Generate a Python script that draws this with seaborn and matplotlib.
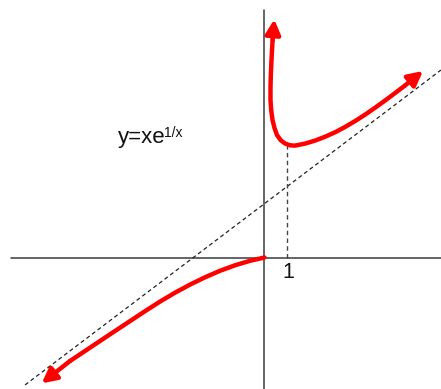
import matplotlib
matplotlib.use("Agg")
import matplotlib.pyplot as plt
import seaborn as sns
import pandas as pd

# Sketch of y = x*e^(1/x): hand-read points along each branch
right_x = [0.352, 0.322, 0.296, 0.274, 0.261, 0.261, 0.291, 0.348, 0.435, 0.543, 0.696,
           0.891, 1.109, 1.326, 1.761, 2.196, 2.630, 3.065, 3.5, 3.935, 4.370, 4.804,
           5.239, 5.674, 6.109]
right_y = [9.457, 8.935, 8.413, 7.891, 7.370, 6.848, 6.413, 5.978, 5.630, 5.326, 5.109,
           4.957, 4.878, 4.865, 4.952, 5.083, 5.248, 5.443, 5.674, 5.930, 6.209, 6.509,
           6.822, 7.148, 7.478]
right_tip_top = (0.426, 10.357)
right_tip_end = (6.891, 8.109)

left_x = [0.0, -0.630, -1.283, -1.935, -2.587, -3.239, -3.891, -4.543, -5.196, -5.848,
          -6.5, -7.152, -7.804, -8.457]
left_y = [0.0, -0.143, -0.339, -0.578, -0.861, -1.178, -1.530, -1.917, -2.335, -2.765,
          -3.196, -3.630, -4.065, -4.5]
left_tip = (-9.687, -5.470)

# Oblique asymptote and the guide at x = 1
asym_x = [-10.41, 7.67]
asym_y = [-5.54, 8.15]
guide_x = [1.0, 1.0]
guide_y = [0.0, 4.93]

tick_label = "1"
equation = "y=xe"
exponent = "1/x"

sns.set_theme(style="white")
plt.rcParams["font.family"] = ["Liberation Sans", "DejaVu Sans"]

fig = plt.figure(figsize=(4.41, 3.89), dpi=100)
ax = fig.add_axes([0, 0, 1, 1])
ax.set_xlim(-11.5, 7.674)
ax.set_ylim(-5.717, 11.196)
ax.axis("off")

# Coordinate axes
axis_color = "#3a3a3a"
ax.plot([-11.04, 7.674], [0, 0], color=axis_color, lw=1.1, zorder=1)
ax.plot([0, 0], [-5.717, 10.76], color=axis_color, lw=1.1, zorder=1)

# Dashed asymptote and x = 1 guide
sns.lineplot(x=asym_x, y=asym_y, ax=ax, color="#222222", lw=0.9,
             linestyle=(0, (3.2, 2.4)), sort=False, estimator=None, zorder=2)
sns.lineplot(x=guide_x, y=guide_y, ax=ax, color="#444444", lw=1.0,
             linestyle=(0, (3.2, 2.4)), sort=False, estimator=None, zorder=2)

red = "#ff0000"
lw = 3.2
right = pd.DataFrame({"x": right_x, "y": right_y})
left = pd.DataFrame({"x": left_x, "y": left_y})
line_kw = dict(ax=ax, color=red, lw=lw, sort=False, estimator=None, zorder=3,
               solid_capstyle="round", solid_joinstyle="round")
sns.lineplot(data=right, x="x", y="y", **line_kw)
sns.lineplot(data=left, x="x", y="y", **line_kw)

arrow_kw = dict(arrowstyle="-|>,head_length=0.62,head_width=0.32", color=red,
                lw=lw, mutation_scale=14, shrinkA=0, shrinkB=0)
ax.annotate("", xy=right_tip_top, xytext=(right_x[0], right_y[0]), arrowprops=arrow_kw, zorder=4)
ax.annotate("", xy=right_tip_end, xytext=(right_x[-1], right_y[-1]), arrowprops=arrow_kw, zorder=4)
ax.annotate("", xy=left_tip, xytext=(left_x[-1], left_y[-1]), arrowprops=arrow_kw, zorder=4)

# Labels
ax.text(1.02, -0.2, tick_label, ha="center", va="top", fontsize=15.5, color="#111111")
ax.text(-6.37, 4.98, equation, ha="left", va="baseline", fontsize=16, color="#111111")
ax.text(-4.37, 5.24, exponent, ha="left", va="baseline", fontsize=10, color="#111111")

fig.savefig("out.png", dpi=100)
